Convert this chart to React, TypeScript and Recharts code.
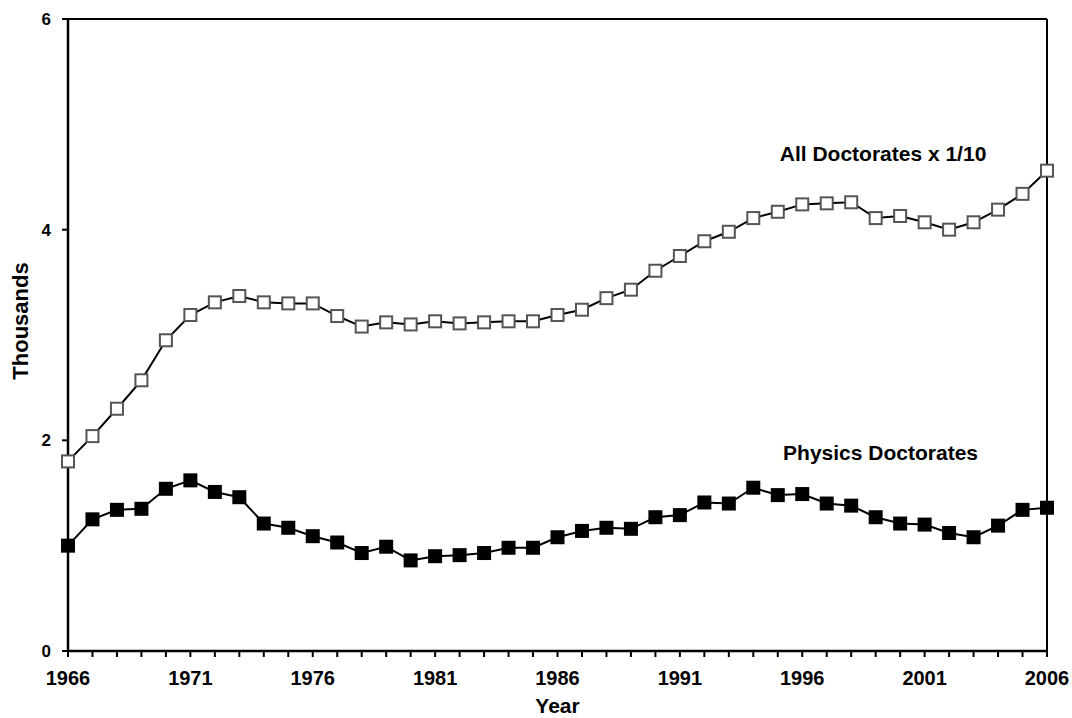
import React from "react";
import {
  LineChart,
  Line,
  XAxis,
  YAxis,
  ReferenceLine,
  ReferenceDot,
} from "recharts";

const years = [
  1966, 1967, 1968, 1969, 1970, 1971, 1972, 1973, 1974, 1975, 1976, 1977, 1978,
  1979, 1980, 1981, 1982, 1983, 1984, 1985, 1986, 1987, 1988, 1989, 1990, 1991,
  1992, 1993, 1994, 1995, 1996, 1997, 1998, 1999, 2000, 2001, 2002, 2003, 2004,
  2005, 2006,
];

// all doctorates, scaled by 1/10 (thousands)
const allDoctorates = [
  1.8, 2.04, 2.3, 2.57, 2.95, 3.19, 3.31, 3.37, 3.31, 3.3, 3.3, 3.18, 3.08,
  3.12, 3.1, 3.13, 3.11, 3.12, 3.13, 3.13, 3.19, 3.24, 3.35, 3.43, 3.61, 3.75,
  3.89, 3.98, 4.11, 4.17, 4.24, 4.25, 4.26, 4.11, 4.13, 4.07, 4.0, 4.07, 4.19,
  4.34, 4.56,
];

const physicsDoctorates = [
  1.0, 1.25, 1.34, 1.35, 1.54, 1.62, 1.51, 1.46, 1.21, 1.17, 1.09, 1.03, 0.93,
  0.99, 0.86, 0.9, 0.91, 0.93, 0.98, 0.98, 1.08, 1.14, 1.17, 1.16, 1.27, 1.29,
  1.41, 1.4, 1.55, 1.48, 1.49, 1.4, 1.38, 1.27, 1.21, 1.2, 1.12, 1.08, 1.19,
  1.34, 1.36,
];

const yTicks = [0, 2, 4, 6];
const labelYears = [1966, 1971, 1976, 1981, 1986, 1991, 1996, 2001, 2006];

const data = years.map((year, i) => ({
  year,
  all: allDoctorates[i],
  physics: physicsDoctorates[i],
}));

const FONT = "Arial, 'Liberation Sans', sans-serif";

function squareDot(fill: string, stroke: string, size: number) {
  return (props: any) => {
    const { cx, cy, index } = props;
    if (cx == null || cy == null) return <g key={index} />;
    return (
      <rect
        key={index}
        x={cx - size / 2}
        y={cy - size / 2}
        width={size}
        height={size}
        fill={fill}
        stroke={stroke}
        strokeWidth={2}
      />
    );
  };
}

const bigLabel = (text: string) => (props: any) => {
  const { viewBox } = props;
  const x = viewBox.x + (viewBox.width || 0) / 2;
  const y = viewBox.y + (viewBox.height || 0) / 2;
  return (
    <text
      x={x}
      y={y}
      textAnchor="middle"
      dominantBaseline="central"
      fontFamily={FONT}
      fontWeight="bold"
      fontSize={21}
      fill="#000"
    >
      {text}
    </text>
  );
};

export default function App() {
  return (
    <div style={{ position: "absolute", left: 0, top: 0, background: "#fff" }}>
      <LineChart
        width={1072}
        height={718}
        data={data}
        margin={{ top: 19, right: 25, bottom: 0, left: 0 }}
      >
        <XAxis
          dataKey="year"
          type="number"
          domain={[1966, 2006]}
          ticks={years}
          interval={0}
          tickFormatter={(v: number) => (labelYears.includes(v) ? String(v) : "")}
          height={67}
          tickSize={6}
          tickMargin={14}
          axisLine={{ stroke: "#000", strokeWidth: 2.5 }}
          tickLine={{ stroke: "#000", strokeWidth: 2 }}
          tick={{ fill: "#000", fontFamily: FONT, fontWeight: "bold", fontSize: 20 }}
          label={(props: any) => {
            const { viewBox } = props;
            return (
              <text
                x={viewBox.x + viewBox.width / 2}
                y={viewBox.y + 54}
                textAnchor="middle"
                dominantBaseline="central"
                fontFamily={FONT}
                fontWeight="bold"
                fontSize={21}
                fill="#000"
              >
                Year
              </text>
            );
          }}
        />
        <YAxis
          type="number"
          domain={[0, 6]}
          ticks={yTicks}
          width={68}
          tickSize={6}
          tickMargin={11}
          axisLine={{ stroke: "#000", strokeWidth: 2.5 }}
          tickLine={{ stroke: "#000", strokeWidth: 2 }}
          tick={{ fill: "#000", fontFamily: FONT, fontWeight: "bold", fontSize: 17 }}
          label={(props: any) => {
            const { viewBox } = props;
            const x = viewBox.x + 20;
            const y = viewBox.y + viewBox.height / 2 - 14;
            return (
              <text
                x={x}
                y={y}
                transform={`rotate(-90 ${x} ${y})`}
                textAnchor="middle"
                dominantBaseline="central"
                fontFamily={FONT}
                fontWeight="bold"
                fontSize={22}
                fill="#000"
              >
                Thousands
              </text>
            );
          }}
        />
        <ReferenceLine y={6} stroke="#000" strokeWidth={2} />
        <ReferenceLine x={2006} stroke="#000" strokeWidth={2} />
        <Line
          type="linear"
          dataKey="all"
          stroke="#000"
          strokeWidth={2}
          dot={squareDot("#fff", "#555", 12)}
          isAnimationActive={false}
        />
        <Line
          type="linear"
          dataKey="physics"
          stroke="#000"
          strokeWidth={2}
          dot={squareDot("#000", "#000", 12)}
          isAnimationActive={false}
        />
        <ReferenceDot
          x={1999.3}
          y={4.72}
          r={1}
          fill="none"
          stroke="none"
          label={bigLabel("All Doctorates x 1/10")}
        />
        <ReferenceDot
          x={1999.2}
          y={1.88}
          r={1}
          fill="none"
          stroke="none"
          label={bigLabel("Physics Doctorates")}
        />
      </LineChart>
    </div>
  );
}
